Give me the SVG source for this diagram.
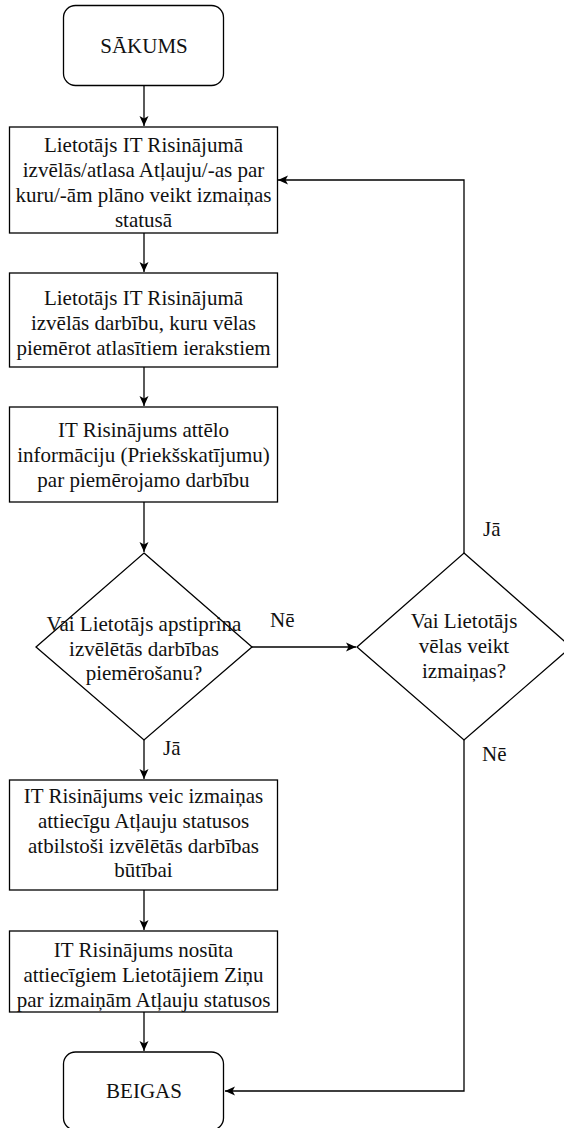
<svg xmlns="http://www.w3.org/2000/svg" width="564" height="1128" viewBox="0 0 564 1128">
<defs>
<marker id="arr" viewBox="0 0 10 10" refX="10" refY="5" markerWidth="10" markerHeight="10" markerUnits="userSpaceOnUse" orient="auto">
<path d="M0,0.5 L10,5 L0,9.5 L2.5,5 Z" fill="#000"/>
</marker>
<style>
.shape{fill:#fff;stroke:#000;stroke-width:1.3}
.edge{fill:none;stroke:#000;stroke-width:1.3}
.t{font-family:'Liberation Serif','Times New Roman',serif;font-size:21px;fill:#111;text-anchor:middle}
.lbl{text-anchor:start}
</style>
</defs>
<g id="connectors">
<path class="edge" d="M144,85 L144,126" marker-end="url(#arr)"/>
<path class="edge" d="M144,233 L144,272" marker-end="url(#arr)"/>
<path class="edge" d="M144,367 L144,406" marker-end="url(#arr)"/>
<path class="edge" d="M144,502 L144,552" marker-end="url(#arr)"/>
<path class="edge" d="M251,647 L356,647" marker-end="url(#arr)"/>
<path class="edge" d="M144,740 L144,779" marker-end="url(#arr)"/>
<path class="edge" d="M144,890 L144,930" marker-end="url(#arr)"/>
<path class="edge" d="M144,1012 L144,1051" marker-end="url(#arr)"/>
<path class="edge" d="M464,553 L464,180 L278,180" marker-end="url(#arr)"/>
<path class="edge" d="M464,740 L464,1091 L225,1091" marker-end="url(#arr)"/>
<text class="t lbl" x="270" y="627">Nē</text>
<text class="t lbl" x="163" y="755">Jā</text>
<text class="t lbl" x="483" y="536">Jā</text>
<text class="t lbl" x="482" y="761">Nē</text>
</g>
<g id="start">
<rect class="shape" x="63.5" y="5.5" width="160" height="80" rx="12"/>
<text class="t" x="144" y="53">SĀKUMS</text>
</g>
<g id="select">
<rect class="shape" x="9.5" y="127" width="268" height="106"/>
<text class="t" x="143.5" y="152">Lietotājs IT Risinājumā</text>
<text class="t" x="143.5" y="177">izvēlās/atlasa Atļauju/-as par</text>
<text class="t" x="143.5" y="202">kuru/-ām plāno veikt izmaiņas</text>
<text class="t" x="143.5" y="227">statusā</text>
</g>
<g id="action">
<rect class="shape" x="9.5" y="273" width="268" height="94"/>
<text class="t" x="143.5" y="305">Lietotājs IT Risinājumā</text>
<text class="t" x="143.5" y="330">izvēlās darbību, kuru vēlas</text>
<text class="t" x="143.5" y="355">piemērot atlasītiem ierakstiem</text>
</g>
<g id="preview">
<rect class="shape" x="9.5" y="407" width="268" height="95"/>
<text class="t" x="143.5" y="437">IT Risinājums attēlo</text>
<text class="t" x="143.5" y="462">informāciju (Priekšskatījumu)</text>
<text class="t" x="143.5" y="487">par piemērojamo darbību</text>
</g>
<g id="confirm">
<path class="shape" d="M144,553 L252,647 L144,740 L36,647 Z"/>
<text class="t" x="144" y="631">Vai Lietotājs apstiprina</text>
<text class="t" x="144" y="655.5">izvēlētās darbības</text>
<text class="t" x="144" y="680">piemērošanu?</text>
</g>
<g id="change">
<path class="shape" d="M464,553 L571,647 L464,740 L357,647 Z"/>
<text class="t" x="464" y="628">Vai Lietotājs</text>
<text class="t" x="464" y="653">vēlas veikt</text>
<text class="t" x="464" y="678">izmaiņas?</text>
</g>
<g id="apply">
<rect class="shape" x="9.5" y="780" width="268" height="110"/>
<text class="t" x="143.5" y="803">IT Risinājums veic izmaiņas</text>
<text class="t" x="143.5" y="828">attiecīgu Atļauju statusos</text>
<text class="t" x="143.5" y="853">atbilstoši izvēlētās darbības</text>
<text class="t" x="143.5" y="877">būtībai</text>
</g>
<g id="notify">
<rect class="shape" x="9.5" y="931" width="268" height="81"/>
<text class="t" x="143.5" y="957">IT Risinājums nosūta</text>
<text class="t" x="143.5" y="982">attiecīgiem Lietotājiem Ziņu</text>
<text class="t" x="143.5" y="1007">par izmaiņām Atļauju statusos</text>
</g>
<g id="end">
<rect class="shape" x="63.5" y="1052" width="160" height="78" rx="12"/>
<text class="t" x="144" y="1098">BEIGAS</text>
</g>
</svg>
